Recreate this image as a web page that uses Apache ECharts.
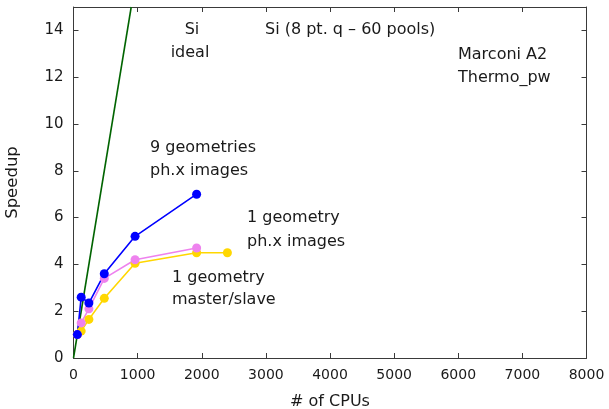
<!DOCTYPE html>
<html>
<head>
<meta charset="utf-8">
<script src="https://cdn.jsdelivr.net/npm/echarts@6/dist/echarts.min.js"></script>
<style>
  html, body { margin: 0; padding: 0; background: #fff; }
  #chart { width: 609px; height: 409px; }
</style>
</head>
<body>
<div id="chart"></div>
<script>
// Number of CPUs for each run
const cpus = [60, 120, 240, 480, 960, 1920];
const cpusMasterSlave = [60, 120, 240, 480, 960, 1920, 2400];
// Measured speedups
const speedup9Geom = [1, 2.6, 2.35, 3.6, 5.2, 7.0];
const speedup1GeomImages = [1, 1.5, 2.1, 3.4, 4.2, 4.7];
const speedup1GeomMaster = [1, 1.15, 1.65, 2.55, 4.05, 4.5, 4.5];
// Ideal scaling: speedup = CPUs / 60
const idealCpus = [0, 900];
const idealSpeedup = [0, 15];
// Axis ticks
const xTicks = [0, 1000, 2000, 3000, 4000, 5000, 6000, 7000, 8000];
const yTicks = [0, 2, 4, 6, 8, 10, 12, 14];

const FONT = 'DejaVu Sans';
const TXT = '#1a1a1a';
const AX = '#3a3a3a';

function pairs(xs, ys) { return xs.map((x, i) => [x, ys[i]]); }

const chart = echarts.init(document.getElementById('chart'), null, { renderer: 'canvas' });

const baseAxis = {
  axisLine: { show: true, onZero: false, lineStyle: { color: AX, width: 1 } },
  axisTick: { show: true, inside: true, length: 5, lineStyle: { color: AX } },
  splitLine: { show: false },
};

function line(name, xs, ys, color) {
  return {
    name, type: 'line', data: pairs(xs, ys),
    symbol: 'circle', symbolSize: 9,
    lineStyle: { color, width: 1.6 },
    itemStyle: { color },
    animation: false, z: 3,
  };
}

const option = {
  animation: false,
  grid: { left: 73.5, right: 22.5, top: 7, bottom: 51, containLabel: false, outerBoundsMode: 'none' },
  xAxis: [
    Object.assign({}, baseAxis, {
      type: 'value', min: 0, max: 8000, interval: 1000,
      name: '# of CPUs', nameLocation: 'middle', nameGap: 36,
      nameTextStyle: { fontFamily: FONT, fontSize: 16, color: TXT },
      axisLabel: { fontFamily: FONT, fontSize: 14, color: TXT, margin: 10,
        formatter: v => xTicks.includes(v) ? String(v) : '' },
    }),
    Object.assign({}, baseAxis, {
      type: 'value', position: 'top', min: 0, max: 8000, interval: 1000,
      axisLabel: { show: false },
    }),
  ],
  yAxis: [
    Object.assign({}, baseAxis, {
      type: 'value', min: 0, max: 15, interval: 2,
      name: 'Speedup', nameLocation: 'middle', nameGap: 52,
      nameTextStyle: { fontFamily: FONT, fontSize: 16.5, color: TXT },
      axisLabel: { fontFamily: FONT, fontSize: 15, color: TXT, margin: 10, showMaxLabel: false,
        formatter: v => yTicks.includes(v) ? String(v) : '' },
    }),
    Object.assign({}, baseAxis, {
      type: 'value', position: 'right', min: 0, max: 15, interval: 2,
      axisLabel: { show: false },
    }),
  ],
  series: [
    {
      name: 'ideal', type: 'line', data: pairs(idealCpus, idealSpeedup),
      symbol: 'none', lineStyle: { color: '#006400', width: 1.6 },
      animation: false, z: 2,
    },
    line('1 geometry master/slave', cpusMasterSlave, speedup1GeomMaster, '#ffd700'),
    line('1 geometry ph.x images', cpus, speedup1GeomImages, '#ee82ee'),
    line('9 geometries ph.x images', cpus, speedup9Geom, '#0000ff'),
  ],
};

// Text annotations placed on the plot
const notes = [
  { text: 'Si', x: 192, y: 30, align: 'center' },
  { text: 'ideal', x: 190, y: 53, align: 'center' },
  { text: 'Si (8 pt. q \u2013 60 pools)', x: 265, y: 30, align: 'left' },
  { text: 'Marconi A2', x: 458, y: 55, align: 'left' },
  { text: 'Thermo_pw', x: 458, y: 78, align: 'left' },
  { text: '9 geometries', x: 150, y: 148, align: 'left' },
  { text: 'ph.x images', x: 150, y: 171, align: 'left' },
  { text: '1 geometry', x: 247, y: 218, align: 'left' },
  { text: 'ph.x images', x: 247, y: 242, align: 'left' },
  { text: '1 geometry', x: 172, y: 278, align: 'left' },
  { text: 'master/slave', x: 172, y: 300, align: 'left' },
];
option.graphic = notes.map(n => ({
  type: 'text', x: n.x, y: n.y, z: 10,
  style: { text: n.text, fill: TXT, font: '16px "' + FONT + '"',
    textAlign: n.align, textVerticalAlign: 'middle' },
}));

chart.setOption(option);
</script>
</body>
</html>
